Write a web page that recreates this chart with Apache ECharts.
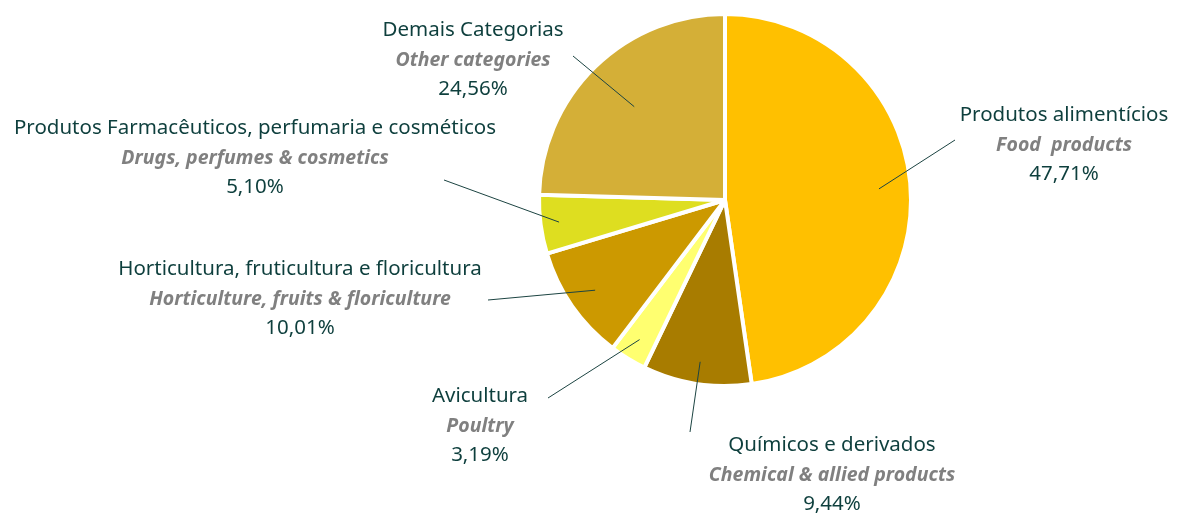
<!DOCTYPE html>
<html>
<head>
<meta charset="utf-8">
<script src="https://cdn.jsdelivr.net/npm/echarts@6/dist/echarts.min.js"></script>
<style>
  html, body { margin: 0; padding: 0; background: #fff; }
  #chart { width: 1186px; height: 514px; }
</style>
</head>
<body>
<div id="chart"></div>
<script>
// data
const namesPt = ['Produtos alimentícios', 'Químicos e derivados', 'Avicultura',
  'Horticultura, fruticultura e floricultura', 'Produtos Farmacêuticos, perfumaria e cosméticos', 'Demais Categorias']
const namesEn = ['Food  products', 'Chemical & allied products', 'Poultry',
  'Horticulture, fruits & floriculture', 'Drugs, perfumes & cosmetics', 'Other categories']
const shares = [47.71, 9.44, 3.19, 10.01, 5.10, 24.56]

// layout
const colors = ['#FFC000', '#A87C00', '#FFFF70', '#CC9900', '#DEDE20', '#D4AF37']
const cx = 725, cy = 200, R = 186
const labelPos = [[1064, 145], [832, 475], [480, 426], [300, 299], [255, 158], [473, 60]]
const lineEnd = [[955, 140], [690, 432], [548, 398], [488, 300], [444, 180], [573, 56]]
const lineStartR = [0.83, 0.88, 0.88, 0.85, 0.9, 0.7]

const total = shares.reduce((a, b) => a + b, 0)
const midAngle = shares.map((v, i) => {
  const before = shares.slice(0, i).reduce((a, b) => a + b, 0)
  return (before + v / 2) / total * Math.PI * 2
})

// leader lines from inside each slice to its label
const leaders = shares.map((v, i) => {
  const a = midAngle[i]
  const r = R * lineStartR[i]
  return {
    type: 'line',
    z: 100,
    silent: true,
    shape: { x1: cx + r * Math.sin(a), y1: cy - r * Math.cos(a), x2: lineEnd[i][0], y2: lineEnd[i][1] },
    style: { stroke: '#1C4442', lineWidth: 1 }
  }
})

const chart = echarts.init(document.getElementById('chart'))
chart.setOption({
  backgroundColor: '#fff',
  animation: false,
  graphic: leaders,
  series: [{
    type: 'pie',
    center: [cx, cy],
    radius: R,
    startAngle: 90,
    clockwise: true,
    avoidLabelOverlap: false,
    itemStyle: { borderColor: '#fff', borderWidth: 4 },
    label: {
      show: true,
      position: 'outside',
      formatter: (p) => '{pt|' + namesPt[p.dataIndex] + '}\n{en|' + namesEn[p.dataIndex] + '}\n{pct|' +
        shares[p.dataIndex].toFixed(2).replace('.', ',') + '%}',
      rich: {
        pt: { fontFamily: 'Noto Sans', fontSize: 20.5, color: '#0E3F3D', lineHeight: 29.5, align: 'center' },
        en: { fontFamily: 'Noto Sans', fontSize: 19.5, fontStyle: 'italic', fontWeight: 'bold', color: '#808080', lineHeight: 29.5, align: 'center' },
        pct: { fontFamily: 'Noto Sans', fontSize: 20.5, color: '#0E3F3D', lineHeight: 29.5, align: 'center' }
      }
    },
    labelLine: { show: false },
    labelLayout: (params) => ({
      x: labelPos[params.dataIndex][0],
      y: labelPos[params.dataIndex][1],
      align: 'center',
      verticalAlign: 'middle'
    }),
    emphasis: { disabled: true },
    data: shares.map((v, i) => ({ name: namesPt[i], value: v, itemStyle: { color: colors[i] } }))
  }]
})
</script>
</body>
</html>
